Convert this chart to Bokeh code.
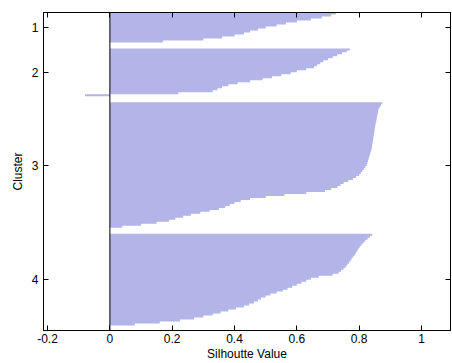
from bokeh.plotting import figure
from bokeh.models import Range1d, FixedTicker, LinearAxis, Span, ColumnDataSource
from bokeh.embed import file_html
from bokeh.resources import INLINE

# ---- data (silhouette values, sorted within each cluster) ----
cluster_names = ["1", "2", "3", "4"]
sil_c1 = [0.725, 0.71, 0.68, 0.645, 0.60, 0.565, 0.535, 0.50, 0.475, 0.45,
          0.43, 0.40, 0.36, 0.30, 0.17]
sil_c2 = [0.77, 0.76, 0.745, 0.73, 0.715, 0.70, 0.685, 0.675, 0.665, 0.655,
          0.63, 0.60, 0.58, 0.55, 0.52, 0.49, 0.45, 0.41, 0.38, 0.36,
          0.345, 0.33, 0.22, -0.08]
sil_c3 = [0.874, 0.870, 0.866, 0.862, 0.861, 0.860, 0.858, 0.857, 0.856, 0.855,
          0.853, 0.852, 0.851, 0.850, 0.849, 0.848, 0.847, 0.846, 0.845, 0.844,
          0.843, 0.842, 0.841, 0.840, 0.838, 0.836, 0.834, 0.832, 0.830, 0.828,
          0.826, 0.824, 0.820, 0.815, 0.810, 0.805, 0.800, 0.790, 0.780, 0.765,
          0.750, 0.740, 0.730, 0.710, 0.690, 0.630, 0.560, 0.500, 0.450, 0.420,
          0.400, 0.385, 0.370, 0.350, 0.320, 0.290, 0.260, 0.235, 0.210, 0.190,
          0.150, 0.100, 0.040]
sil_c4 = [0.842, 0.835, 0.827, 0.820, 0.814, 0.808, 0.802, 0.798, 0.794, 0.790,
          0.786, 0.781, 0.776, 0.772, 0.767, 0.762, 0.757, 0.750, 0.742, 0.734,
          0.715, 0.670, 0.645, 0.630, 0.615, 0.600, 0.585, 0.570, 0.555, 0.535,
          0.515, 0.500, 0.485, 0.475, 0.462, 0.447, 0.430, 0.405, 0.380, 0.355,
          0.330, 0.300, 0.270, 0.225, 0.160, 0.080]
x_ticks = [-0.2, 0.0, 0.2, 0.4, 0.6, 0.8, 1.0]
x_tick_labels = ["-0.2", "0", "0.2", "0.4", "0.6", "0.8", "1"]
gap_rows = 3
tail_rows = 2.5

# ---- build the stepped outline of each cluster's bars (barh width 1) ----
xs_all, ys_all, tick_pos = [], [], []
pos = 0
for vals_c in [sil_c1, sil_c2, sil_c3, sil_c4]:
    px, py = [0.0], [pos]
    for i, v in enumerate(vals_c):
        px += [v, v]
        py += [pos + i, pos + i + 1]
    px.append(0.0)
    py.append(pos + len(vals_c))
    xs_all.append(px)
    ys_all.append(py)
    tick_pos.append(pos + len(vals_c) / 2.0)
    pos += len(vals_c) + gap_rows
total = pos - gap_rows + tail_rows

src = ColumnDataSource(dict(xs=xs_all, ys=ys_all))

FONT = "Liberation Sans"
BAR = "#b3b4e8"

p = figure(width=452, height=363, output_backend="svg", toolbar_location=None,
           x_range=Range1d(-0.213, 1.093), y_range=Range1d(total, 0),
           min_border_left=43, min_border_right=2, min_border_top=12,
           min_border_bottom=31)
p.background_fill_color = "white"
p.border_fill_color = "white"
p.outline_line_color = "black"
p.outline_line_width = 1
p.xgrid.visible = False
p.ygrid.visible = False

p.patches(xs="xs", ys="ys", source=src, fill_color=BAR, line_color=None)

p.add_layout(Span(location=0, dimension="height", line_color="black",
                  line_width=1))

xt = FixedTicker(ticks=x_ticks)
yt = FixedTicker(ticks=tick_pos)
x_over = {t: lab for t, lab in zip(x_ticks, x_tick_labels)}
y_over = {t: lab for t, lab in zip(tick_pos, cluster_names)}


def style(ax):
    ax.major_tick_in = 5
    ax.major_tick_out = 0
    ax.minor_tick_line_color = None
    ax.axis_line_color = "black"
    ax.major_tick_line_color = "black"
    ax.major_label_text_font = FONT
    ax.major_label_text_font_size = "12px"
    ax.major_label_text_color = "black"
    ax.axis_label_text_font = FONT
    ax.axis_label_text_font_size = "12px"
    ax.axis_label_text_font_style = "normal"
    ax.axis_label_text_color = "black"


xa = p.xaxis[0]
xa.ticker = xt
xa.major_label_overrides = x_over
xa.axis_label = "Silhoutte Value"
style(xa)
xa.major_label_standoff = 3
xa.axis_label_standoff = 1

ya = p.yaxis[0]
ya.ticker = yt
ya.major_label_overrides = y_over
ya.axis_label = "Cluster"
style(ya)
ya.major_label_standoff = 5
ya.axis_label_standoff = 4

top = LinearAxis(ticker=FixedTicker(ticks=x_ticks),
                 major_label_overrides={t: "" for t in x_ticks})
style(top)
top.major_label_text_font_size = "1px"
top.major_label_standoff = 0
p.add_layout(top, "above")

right = LinearAxis(ticker=FixedTicker(ticks=tick_pos),
                   major_label_overrides={t: "" for t in tick_pos})
style(right)
right.major_label_text_font_size = "1px"
right.major_label_standoff = 0
p.add_layout(right, "right")

open("out.html", "w").write(file_html(p, INLINE))
